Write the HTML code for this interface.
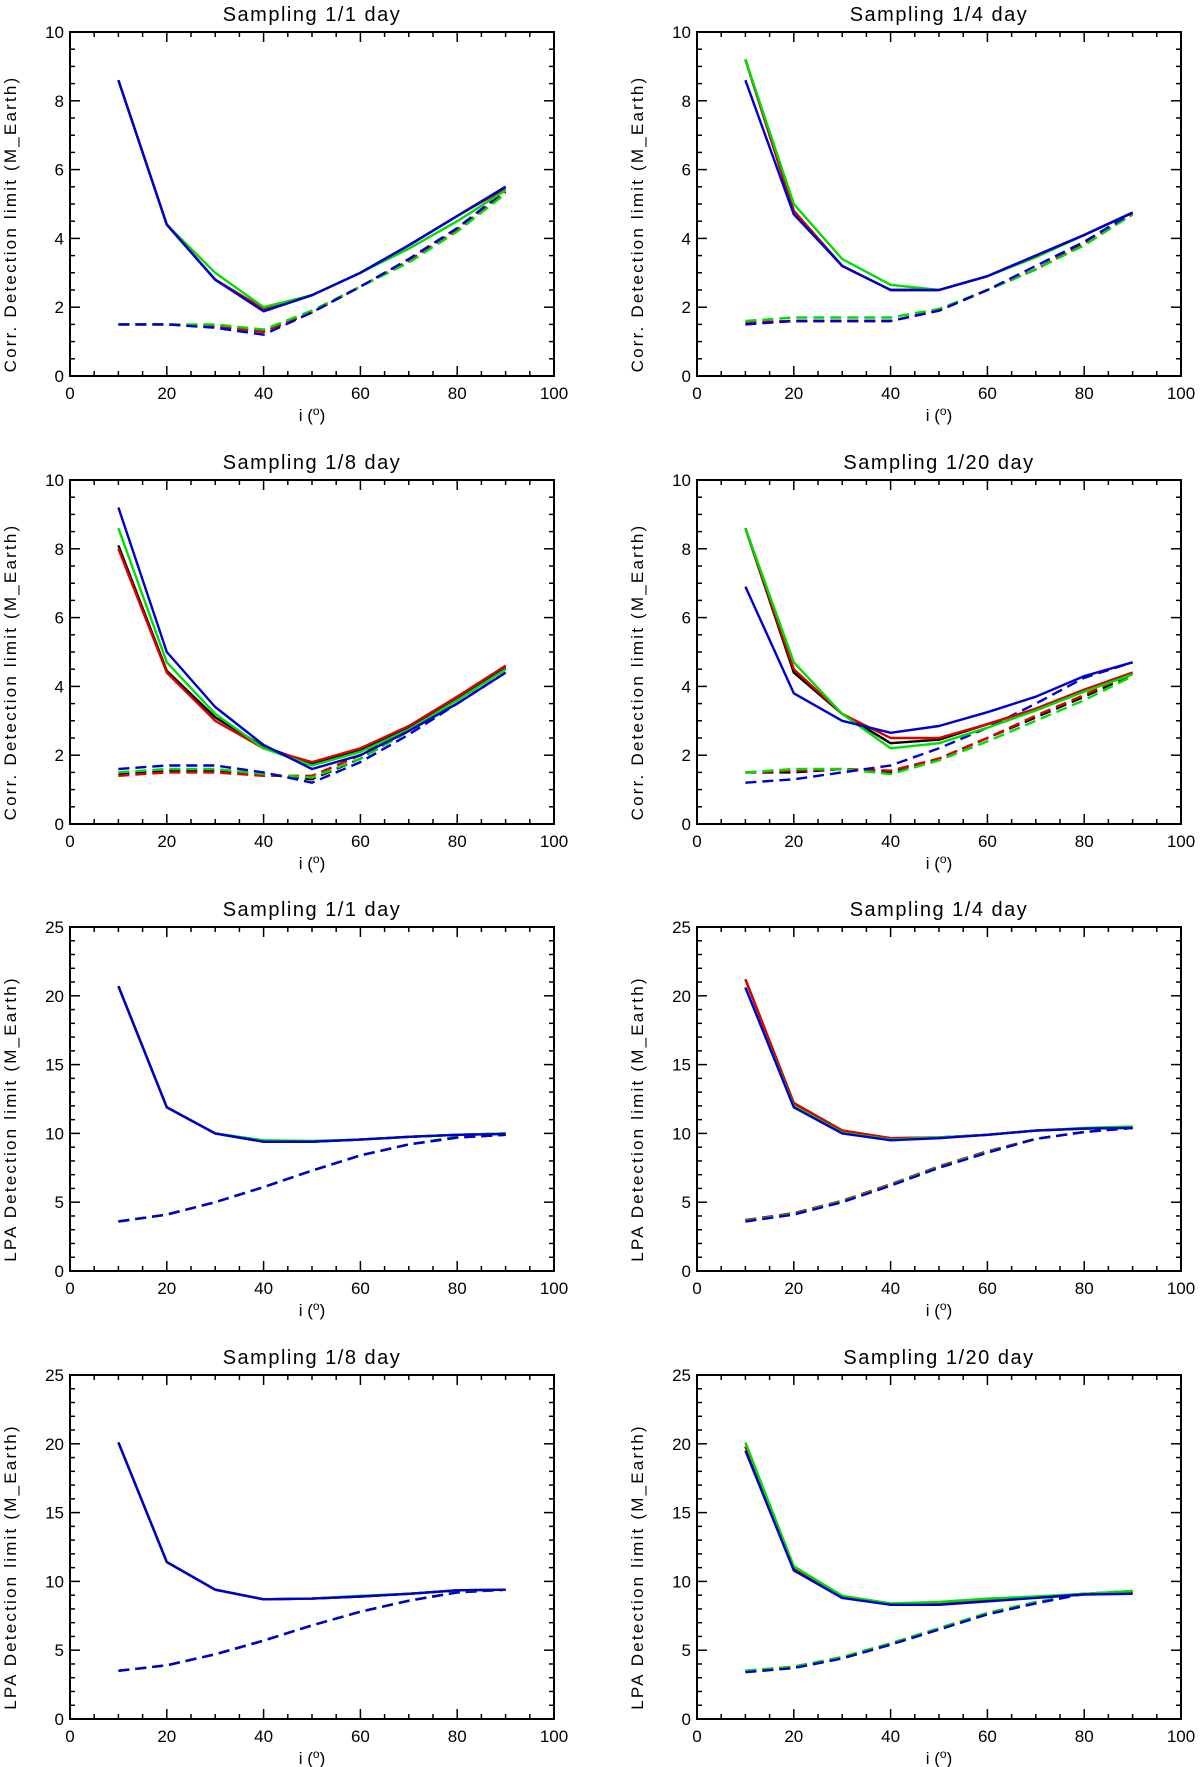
<!DOCTYPE html>
<html><head><meta charset="utf-8"><style>
html,body{margin:0;padding:0;background:#fff;}
svg{display:block;}
text{font-family:"Liberation Sans","DejaVu Sans",sans-serif;fill:#000;}
</style></head><body>
<svg id="chart" width="1200" height="1767" viewBox="0 0 1200 1767" xmlns="http://www.w3.org/2000/svg"></svg>
<script>
const xs = [10,20,30,40,50,60,70,80,90];
const xTicks = [0,20,40,60,80,100];
const yTicksCorr = [0,2,4,6,8,10];
const yTicksLpa = [0,5,10,15,20,25];
const titles = ["Sampling 1/1 day","Sampling 1/4 day","Sampling 1/8 day","Sampling 1/20 day","Sampling 1/1 day","Sampling 1/4 day","Sampling 1/8 day","Sampling 1/20 day"];

// Panel 1
const p1BlackSolid=[8.6,4.4,2.8,1.95,2.35,3.0,3.8,4.65,5.5];
const p1RedSolid=[8.6,4.4,2.8,1.95,2.35,3.0,3.8,4.65,5.45];
const p1GreenSolid=[8.6,4.4,3.0,2.0,2.35,3.0,3.7,4.5,5.4];
const p1BlueSolid=[8.6,4.4,2.8,1.88,2.35,3.0,3.8,4.65,5.5];
const p1BlackDash=[1.5,1.5,1.45,1.3,1.85,2.6,3.35,4.25,5.35];
const p1RedDash=[1.5,1.5,1.45,1.28,1.85,2.6,3.35,4.25,5.35];
const p1GreenDash=[1.5,1.5,1.5,1.35,1.9,2.6,3.3,4.2,5.3];
const p1BlueDash=[1.5,1.5,1.4,1.2,1.85,2.6,3.4,4.3,5.4];
// Panel 2
const p2BlackSolid=[9.2,4.8,3.2,2.5,2.5,2.9,3.5,4.1,4.75];
const p2RedSolid=[9.2,4.8,3.2,2.5,2.5,2.9,3.5,4.1,4.75];
const p2GreenSolid=[9.2,5.0,3.4,2.65,2.5,2.9,3.45,4.1,4.75];
const p2BlueSolid=[8.6,4.7,3.2,2.5,2.5,2.9,3.5,4.1,4.75];
const p2BlackDash=[1.55,1.6,1.6,1.6,1.9,2.5,3.1,3.85,4.7];
const p2RedDash=[1.55,1.6,1.6,1.6,1.9,2.5,3.1,3.85,4.7];
const p2GreenDash=[1.6,1.7,1.7,1.7,1.95,2.5,3.1,3.8,4.7];
const p2BlueDash=[1.5,1.6,1.6,1.6,1.9,2.5,3.2,3.9,4.75];
// Panel 3
const p3BlackSolid=[8.1,4.45,3.1,2.25,1.75,2.15,2.8,3.65,4.55];
const p3RedSolid=[8.0,4.4,3.0,2.2,1.8,2.2,2.85,3.7,4.6];
const p3GreenSolid=[8.6,4.7,3.2,2.2,1.7,2.1,2.75,3.6,4.5];
const p3BlueSolid=[9.2,5.0,3.4,2.3,1.6,2.0,2.7,3.5,4.4];
const p3BlackDash=[1.45,1.55,1.55,1.45,1.3,1.9,2.7,3.6,4.5];
const p3RedDash=[1.4,1.5,1.5,1.4,1.4,2.0,2.8,3.7,4.6];
const p3GreenDash=[1.5,1.6,1.6,1.45,1.35,1.9,2.7,3.6,4.5];
const p3BlueDash=[1.6,1.7,1.7,1.5,1.2,1.8,2.6,3.5,4.4];
// Panel 4
const p4BlackSolid=[8.6,4.4,3.2,2.35,2.45,2.9,3.35,3.9,4.4];
const p4RedSolid=[8.6,4.5,3.2,2.5,2.5,2.9,3.35,3.9,4.4];
const p4GreenSolid=[8.6,4.7,3.2,2.2,2.35,2.8,3.3,3.85,4.35];
const p4BlueSolid=[6.9,3.8,3.0,2.65,2.85,3.25,3.7,4.3,4.7];
const p4BlackDash=[1.5,1.5,1.6,1.5,1.9,2.5,3.1,3.7,4.35];
const p4RedDash=[1.5,1.55,1.6,1.55,1.9,2.5,3.15,3.75,4.4];
const p4GreenDash=[1.5,1.6,1.6,1.45,1.85,2.4,3.0,3.6,4.3];
const p4BlueDash=[1.2,1.3,1.5,1.7,2.2,2.8,3.5,4.25,4.7];
// Panel 5
const p5BlackSolid=[20.7,11.9,10.0,9.4,9.4,9.55,9.75,9.9,10.0];
const p5RedSolid=[20.7,11.9,10.0,9.4,9.4,9.55,9.75,9.9,10.0];
const p5GreenSolid=[20.7,11.9,10.0,9.5,9.45,9.55,9.75,9.9,10.0];
const p5BlueSolid=[20.7,11.9,10.0,9.4,9.4,9.55,9.75,9.9,9.95];
const p5BlackDash=[3.6,4.1,5.0,6.1,7.3,8.4,9.2,9.7,9.9];
const p5RedDash=[3.6,4.1,5.0,6.1,7.3,8.4,9.2,9.7,9.9];
const p5GreenDash=[3.6,4.1,5.0,6.1,7.3,8.4,9.2,9.75,9.95];
const p5BlueDash=[3.6,4.1,5.0,6.1,7.3,8.4,9.2,9.7,9.9];
// Panel 6
const p6BlackSolid=[21.2,12.2,10.2,9.65,9.7,9.9,10.2,10.35,10.45];
const p6RedSolid=[21.2,12.2,10.2,9.65,9.7,9.9,10.2,10.35,10.45];
const p6GreenSolid=[20.6,12.0,10.05,9.55,9.7,9.9,10.2,10.4,10.5];
const p6BlueSolid=[20.6,11.9,10.0,9.5,9.65,9.9,10.2,10.35,10.4];
const p6BlackDash=[3.7,4.2,5.1,6.3,7.6,8.7,9.6,10.1,10.4];
const p6RedDash=[3.7,4.2,5.1,6.3,7.6,8.7,9.6,10.1,10.4];
const p6GreenDash=[3.65,4.15,5.05,6.25,7.55,8.65,9.6,10.1,10.45];
const p6BlueDash=[3.6,4.1,5.0,6.2,7.5,8.6,9.6,10.1,10.4];
// Panel 7
const p7BlackSolid=[20.1,11.4,9.4,8.7,8.75,8.9,9.1,9.35,9.4];
const p7RedSolid=[20.1,11.4,9.4,8.7,8.75,8.9,9.1,9.35,9.4];
const p7GreenSolid=[20.1,11.4,9.4,8.7,8.75,8.95,9.1,9.35,9.4];
const p7BlueSolid=[20.1,11.4,9.4,8.7,8.75,8.9,9.1,9.35,9.4];
const p7BlackDash=[3.5,3.9,4.7,5.7,6.8,7.8,8.6,9.2,9.4];
const p7RedDash=[3.5,3.9,4.7,5.7,6.8,7.8,8.6,9.2,9.4];
const p7GreenDash=[3.5,3.9,4.7,5.7,6.8,7.8,8.6,9.2,9.4];
const p7BlueDash=[3.5,3.9,4.7,5.7,6.8,7.8,8.6,9.2,9.4];
// Panel 8
const p8BlackSolid=[19.8,11.0,8.9,8.35,8.4,8.7,8.85,9.1,9.2];
const p8RedSolid=[19.8,11.0,8.9,8.35,8.4,8.7,8.85,9.1,9.2];
const p8GreenSolid=[20.1,11.1,8.95,8.4,8.5,8.75,8.9,9.1,9.3];
const p8BlueSolid=[19.5,10.8,8.8,8.3,8.3,8.55,8.8,9.05,9.1];
const p8BlackDash=[3.45,3.75,4.45,5.45,6.55,7.65,8.45,9.1,9.25];
const p8RedDash=[3.5,3.8,4.5,5.5,6.6,7.7,8.5,9.1,9.3];
const p8GreenDash=[3.5,3.8,4.5,5.5,6.6,7.7,8.5,9.1,9.3];
const p8BlueDash=[3.4,3.7,4.4,5.4,6.5,7.6,8.4,9.1,9.2];

const panelSeries=[
 [p1BlackSolid,p1RedSolid,p1GreenSolid,p1BlueSolid,p1BlackDash,p1RedDash,p1GreenDash,p1BlueDash],
 [p2BlackSolid,p2RedSolid,p2GreenSolid,p2BlueSolid,p2BlackDash,p2RedDash,p2GreenDash,p2BlueDash],
 [p3BlackSolid,p3RedSolid,p3GreenSolid,p3BlueSolid,p3BlackDash,p3RedDash,p3GreenDash,p3BlueDash],
 [p4BlackSolid,p4RedSolid,p4GreenSolid,p4BlueSolid,p4BlackDash,p4RedDash,p4GreenDash,p4BlueDash],
 [p5BlackSolid,p5RedSolid,p5GreenSolid,p5BlueSolid,p5BlackDash,p5RedDash,p5GreenDash,p5BlueDash],
 [p6BlackSolid,p6RedSolid,p6GreenSolid,p6BlueSolid,p6BlackDash,p6RedDash,p6GreenDash,p6BlueDash],
 [p7BlackSolid,p7RedSolid,p7GreenSolid,p7BlueSolid,p7BlackDash,p7RedDash,p7GreenDash,p7BlueDash],
 [p8BlackSolid,p8RedSolid,p8GreenSolid,p8BlueSolid,p8BlackDash,p8RedDash,p8GreenDash,p8BlueDash]
];
const seriesColors=["#000000","#dd0000","#00dd00","#0000cc"];
const seriesNames=["black","red","green","blue"];

const NS="http://www.w3.org/2000/svg";
const svg=document.getElementById('chart');
function mk(tag,attrs,parent){const e=document.createElementNS(NS,tag);for(const k in attrs)e.setAttribute(k,attrs[k]);(parent||svg).appendChild(e);return e;}

const colLeft=[70,697], W=484, H=344;
const rowTop=[32,480,927,1375];

for(let p=0;p<8;p++){
  const r=Math.floor(p/2), c=p%2;
  const L=colLeft[c], T=rowTop[r], B=T+H, R=L+W;
  const lpa=p>=4;
  const ymax=lpa?25:10, yMajor=lpa?5:2, yMinor=lpa?1:0.5;
  const yTicks=lpa?yTicksLpa:yTicksCorr;
  const sx=v=>L+v/100*W;
  const sy=v=>B-v/ymax*H;
  const g=mk('g',{});
  
  
  const title=mk('text',{x:L+W/2,y:T-11,'text-anchor':'middle','font-size':20,'letter-spacing':'1.5'},g);
  title.textContent=titles[p];
  
  
  const frame=mk('rect',{x:L,y:T,width:W,height:H,fill:'none',stroke:'#000','stroke-width':2},g);
  
  
  for(let v=0;v<=100;v+=5){
    const len=(v%20===0)?10:5;
    mk('line',{x1:sx(v),x2:sx(v),y1:B,y2:B-len,stroke:'#000','stroke-width':1.5},g);
    mk('line',{x1:sx(v),x2:sx(v),y1:T,y2:T+len,stroke:'#000','stroke-width':1.5},g);
  }
  for(const v of xTicks){
    const t=mk('text',{x:sx(v),y:B+23,'text-anchor':'middle','font-size':17},g);
    t.textContent=v;
    
    
  }
  for(let v=0;v<=ymax+1e-9;v+=yMinor){
    const major=Math.abs(v/yMajor-Math.round(v/yMajor))<1e-6;
    const len=major?10:5;
    mk('line',{x1:L,x2:L+len,y1:sy(v),y2:sy(v),stroke:'#000','stroke-width':1.5},g);
    mk('line',{x1:R,x2:R-len,y1:sy(v),y2:sy(v),stroke:'#000','stroke-width':1.5},g);
  }
  for(const v of yTicks){
    const t=mk('text',{x:L-6,y:sy(v)+6,'text-anchor':'end','font-size':17},g);
    t.textContent=v;
    
    
  }
  const xl=mk('text',{x:L+W/2,y:B+45,'text-anchor':'middle','font-size':17},g);
  xl.innerHTML='i (<tspan dy="-6" font-size="12">o</tspan><tspan dy="6">)</tspan>';
  
  
  const yx=L-54, yy=T+H/2+20;
  const yl=mk('text',{x:yx,y:yy,'text-anchor':'middle','font-size':17,'letter-spacing':'2.2',transform:`rotate(-90 ${yx} ${yy})`},g);
  yl.textContent=lpa?'LPA Detection limit (M_Earth)':'Corr. Detection limit (M_Earth)';
  
  
  const S=panelSeries[p];
  const order=[4,5,6,7,0,1,2,3];
  for(const i of order){
    const vals=S[i];
    const pts=xs.map((x,k)=>sx(x).toFixed(1)+','+sy(vals[k]).toFixed(1)).join(' ');
    const attrs={points:pts,fill:'none',stroke:seriesColors[i%4],'stroke-width':2.4,'stroke-linejoin':'round'};
    if(i>=4) attrs['stroke-dasharray']='11 6';
    const pl=mk('polyline',attrs,g);
    
    
  }
}
</script>
</body></html>
